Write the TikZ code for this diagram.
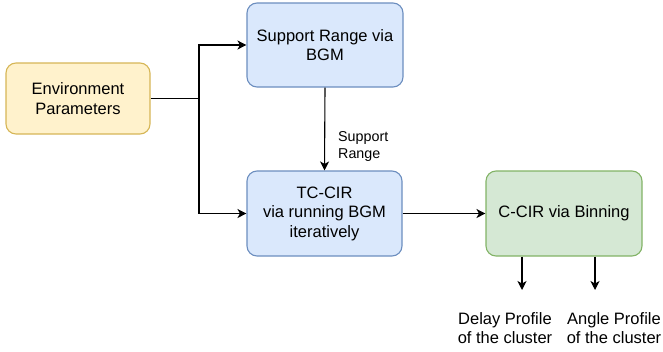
\documentclass[tikz,border=0pt]{standalone}
\usepackage{fontspec}
\setmainfont{Liberation Sans}
\usetikzlibrary{arrows.meta}
\definecolor{yfill}{HTML}{FFF2CC}\definecolor{ydraw}{HTML}{D6B656}
\definecolor{bfill}{HTML}{DAE8FC}\definecolor{bdraw}{HTML}{6C8EBF}
\definecolor{gfill}{HTML}{D5E8D4}\definecolor{gdraw}{HTML}{82B366}
\tikzset{
  box/.style={draw, rounded corners=10pt, line width=1.1pt, align=center,
    inner sep=0pt, font=\fontsize{16.5}{19.5}\selectfont},
  conn/.style={line width=1.1pt, -{Stealth[length=9pt,width=9pt,inset=2.5pt]}},
  plain/.style={line width=1.1pt},
  lbl/.style={align=center, inner sep=0pt, font=\fontsize{16.5}{19.5}\selectfont},
  small/.style={align=left, inner sep=0pt, font=\fontsize{14.3}{17}\selectfont}
}
\begin{document}
\begin{tikzpicture}[x=1pt,y=-1pt]
\useasboundingbox (0,0) rectangle (663,351);
\node[box, fill=yfill, draw=ydraw, minimum width=144pt, minimum height=71pt] (env) at (78,98.5) {Environment\\Parameters};
\node[box, fill=bfill, draw=bdraw, minimum width=156pt, minimum height=84pt] (sr) at (325,45) {Support Range via\\BGM};
\node[box, fill=bfill, draw=bdraw, minimum width=155pt, minimum height=85pt] (tc) at (324.5,213.5) {TC-CIR\\via running BGM\\iteratively};
\node[box, fill=gfill, draw=gdraw, minimum width=156pt, minimum height=85pt] (cc) at (564,213.5) {C-CIR via Binning};
\coordinate (j) at (199,98.5);
\draw[plain] (env.east) -- (j);
\draw[conn] (j) |- (sr.west);
\draw[conn] (j) |- (tc.west);
\draw[conn] (sr.south) -- (tc.north);
\node[small, anchor=west] (srl) at (338,146) {Support\\Range};
\draw[conn] (tc.east) -- (cc.west);
\node[lbl] (dp) at (505,328) {Delay Profile\\of the cluster};
\node[lbl] (ap) at (614,328) {Angle Profile\\of the cluster};
\coordinate (d1) at (522,290);
\coordinate (a1) at (595,290);
\draw[conn] (cc.south -| d1) -- (d1);
\draw[conn] (cc.south -| a1) -- (a1);
\end{tikzpicture}
\end{document}
